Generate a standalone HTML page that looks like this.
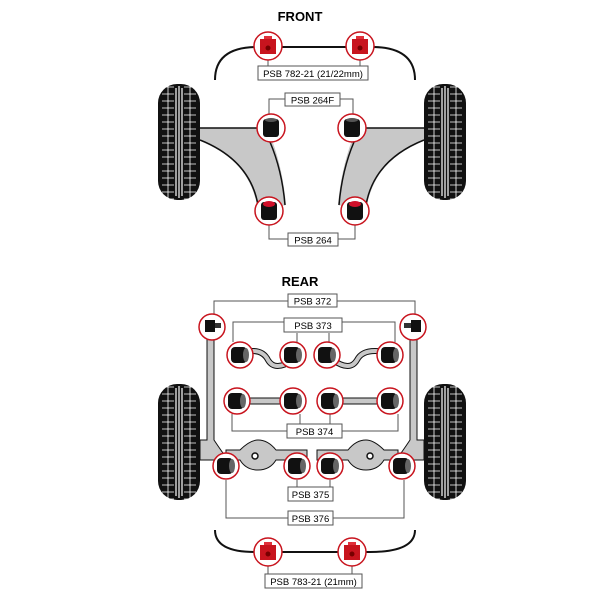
<!DOCTYPE html>
<html><head><style>body{margin:0;background:#fff}svg{display:block}</style></head><body>
<svg width="600" height="600" viewBox="0 0 600 600" xmlns="http://www.w3.org/2000/svg" font-family="Liberation Sans, sans-serif">
<defs>
<pattern id="tread" x="0" y="0" width="42" height="7" patternUnits="userSpaceOnUse">
<rect width="42" height="7" fill="#111"/>
<path d="M4 3h12M26 3h12M10 0v7M32 0v7" stroke="#fff" stroke-width="0.8"/>
</pattern>
<g id="tire">
<rect x="0" y="0" width="42" height="116" rx="19" fill="url(#tread)"/>
<path d="M18 4v108M21 2v112M24 4v108" stroke="#fff" stroke-width="1.2"/>
</g>
<g id="bush">
<circle r="14" fill="#fff" stroke="#c8141e" stroke-width="1.5"/>
<rect x="-8" y="-9" width="16" height="18" rx="3" fill="#111"/>
<ellipse cx="0" cy="-8" rx="6" ry="2" fill="#555"/>
</g>
<g id="bushr">
<circle r="14" fill="#fff" stroke="#c8141e" stroke-width="1.5"/>
<rect x="-8" y="-9" width="16" height="18" rx="3" fill="#111"/>
<ellipse cx="0" cy="-7" rx="6" ry="3" fill="#d0102a"/>
</g>
<g id="side">
<circle r="13" fill="#fff" stroke="#c8141e" stroke-width="1.5"/>
<rect x="-9" y="-8" width="16" height="16" rx="4" fill="#111"/>
<ellipse cx="6" cy="0" rx="3" ry="7" fill="#666"/>
</g>
<g id="redb">
<circle r="14" fill="#fff" stroke="#c8141e" stroke-width="1.5"/>
<path d="M-8 -7h16v15h-16z" fill="#c8141e"/>
<path d="M-4 -7v-3h8v3" fill="#e0303a"/>
<circle r="2.5" cy="2" fill="#700"/>
</g>
</defs>

<text x="300" y="21" text-anchor="middle" font-weight="bold" font-size="13">FRONT</text>
<path d="M215 80 Q215 48 255 47 L374 47 Q415 48 415 80" fill="none" stroke="#111" stroke-width="2"/>
<path d="M268 60v10M360 60v10" stroke="#555"/>
<use href="#redb" x="268" y="46"/><use href="#redb" x="360" y="46"/>
<rect x="258" y="66" width="110" height="14" fill="#fff" stroke="#555"/>
<text x="313" y="77" text-anchor="middle" font-size="9.5">PSB 782-21 (21/22mm)</text>

<use href="#tire" x="158" y="84"/><use href="#tire" x="424" y="84"/>
<!-- arms -->
<path d="M200 128 L268 128 L272 140 Q283 170 286 205 L258 210 Q250 160 200 140 Z" fill="#c8c8c8"/>
<path d="M200 128H262M270 142 Q282 170 285 205M200 140 Q250 160 258 205" fill="none" stroke="#111" stroke-width="1.5"/>
<path d="M424 128 L356 128 L352 140 Q341 170 338 205 L366 210 Q374 160 424 140 Z" fill="#c8c8c8"/>
<path d="M424 128H362M354 142 Q342 170 339 205M424 140 Q374 160 366 205" fill="none" stroke="#111" stroke-width="1.5"/>
<path d="M269 114V99H285M340 99H353V114" fill="none" stroke="#555"/>
<rect x="285" y="93" width="55" height="13" fill="#fff" stroke="#555"/>
<text x="312.5" y="103.5" text-anchor="middle" font-size="9.5">PSB 264F</text>
<use href="#bush" x="271" y="128"/><use href="#bush" x="352" y="128"/>
<path d="M269 225V239H288M338 239H355V225" fill="none" stroke="#555"/>
<rect x="288" y="233" width="50" height="13" fill="#fff" stroke="#555"/>
<text x="313" y="243.5" text-anchor="middle" font-size="9.5">PSB 264</text>
<use href="#bushr" x="269" y="211"/><use href="#bushr" x="355" y="211"/>

<text x="300" y="286" text-anchor="middle" font-weight="bold" font-size="13">REAR</text>
<use href="#tire" x="158" y="384"/><use href="#tire" x="424" y="384"/>
<!-- rear frame -->
<path d="M207 335V440H200V460H228Q222 452 214 440V335Z" fill="#c8c8c8" stroke="#111"/>
<path d="M417 335V440H424V460H396Q402 452 410 440V335Z" fill="#c8c8c8" stroke="#111"/>
<path d="M226 450H240Q250 440 258 440Q268 440 276 450H307V460H276Q270 470 258 470Q246 470 240 460H226Z" fill="#c8c8c8" stroke="#111"/>
<path d="M398 450H384Q374 440 366 440Q356 440 348 450H317V460H348Q354 470 366 470Q378 470 384 460H398Z" fill="#c8c8c8" stroke="#111"/>
<circle cx="255" cy="456" r="3" fill="#fff" stroke="#111" stroke-width="1.5"/>
<circle cx="370" cy="456" r="3" fill="#fff" stroke="#111" stroke-width="1.5"/>
<path d="M245 352 Q262 348 268 360 Q275 372 293 360" fill="none" stroke="#111" stroke-width="6"/>
<path d="M245 352 Q262 348 268 360 Q275 372 293 360" fill="none" stroke="#c8c8c8" stroke-width="4"/>
<path d="M333 360 Q350 372 357 360 Q363 348 385 352" fill="none" stroke="#111" stroke-width="6"/>
<path d="M333 360 Q350 372 357 360 Q363 348 385 352" fill="none" stroke="#c8c8c8" stroke-width="4"/>
<rect x="245" y="398" width="45" height="6" fill="#c8c8c8" stroke="#111"/>
<rect x="335" y="398" width="50" height="6" fill="#c8c8c8" stroke="#111"/>

<path d="M214 314V301H288M337 301H415V314" fill="none" stroke="#555"/>
<rect x="288" y="294" width="49" height="13" fill="#fff" stroke="#555"/>
<text x="312.5" y="304.5" text-anchor="middle" font-size="9.5">PSB 372</text>
<path d="M233 342V322H284M342 322H395V342M297 342V333M329 342V333" fill="none" stroke="#555"/>
<rect x="284" y="318" width="58" height="14" fill="#fff" stroke="#555"/>
<text x="313" y="329" text-anchor="middle" font-size="9.5">PSB 373</text>
<g><circle cx="212" cy="327" r="13" fill="#fff" stroke="#c8141e" stroke-width="1.5"/><rect x="205" y="320" width="10" height="12" fill="#111"/><rect x="215" y="323" width="6" height="5" fill="#333"/></g>
<g><circle cx="413" cy="327" r="13" fill="#fff" stroke="#c8141e" stroke-width="1.5"/><rect x="411" y="320" width="10" height="12" fill="#111"/><rect x="404" y="323" width="7" height="5" fill="#333"/></g>
<use href="#side" x="240" y="355"/><use href="#side" x="293" y="355"/><use href="#side" x="327" y="355"/><use href="#side" x="390" y="355"/>
<path d="M232 414V431H287M342 431H398V414M300 414V424M330 414V424" fill="none" stroke="#555"/>
<rect x="287" y="424" width="55" height="14" fill="#fff" stroke="#555"/>
<text x="314.5" y="435" text-anchor="middle" font-size="9.5">PSB 374</text>
<use href="#side" x="237" y="401"/><use href="#side" x="293" y="401"/><use href="#side" x="330" y="401"/><use href="#side" x="390" y="401"/>
<path d="M226 480V518H288M333 518H404V480M297 480V487M330 480V487" fill="none" stroke="#555"/>
<rect x="288" y="487" width="45" height="14" fill="#fff" stroke="#555"/>
<text x="310.5" y="498" text-anchor="middle" font-size="9.5">PSB 375</text>
<rect x="288" y="511" width="45" height="14" fill="#fff" stroke="#555"/>
<text x="310.5" y="522" text-anchor="middle" font-size="9.5">PSB 376</text>
<use href="#side" x="226" y="466"/><use href="#side" x="297" y="466"/><use href="#side" x="330" y="466"/><use href="#side" x="402" y="466"/>

<path d="M215 530 Q215 552 255 552 L370 552 Q415 552 415 530" fill="none" stroke="#111" stroke-width="2"/>
<path d="M268 566v8M352 566v8" stroke="#555"/>
<use href="#redb" x="268" y="552"/><use href="#redb" x="352" y="552"/>
<rect x="265" y="574" width="97" height="14" fill="#fff" stroke="#555"/>
<text x="313.5" y="585" text-anchor="middle" font-size="9.5">PSB 783-21 (21mm)</text>
</svg>
</body></html>
